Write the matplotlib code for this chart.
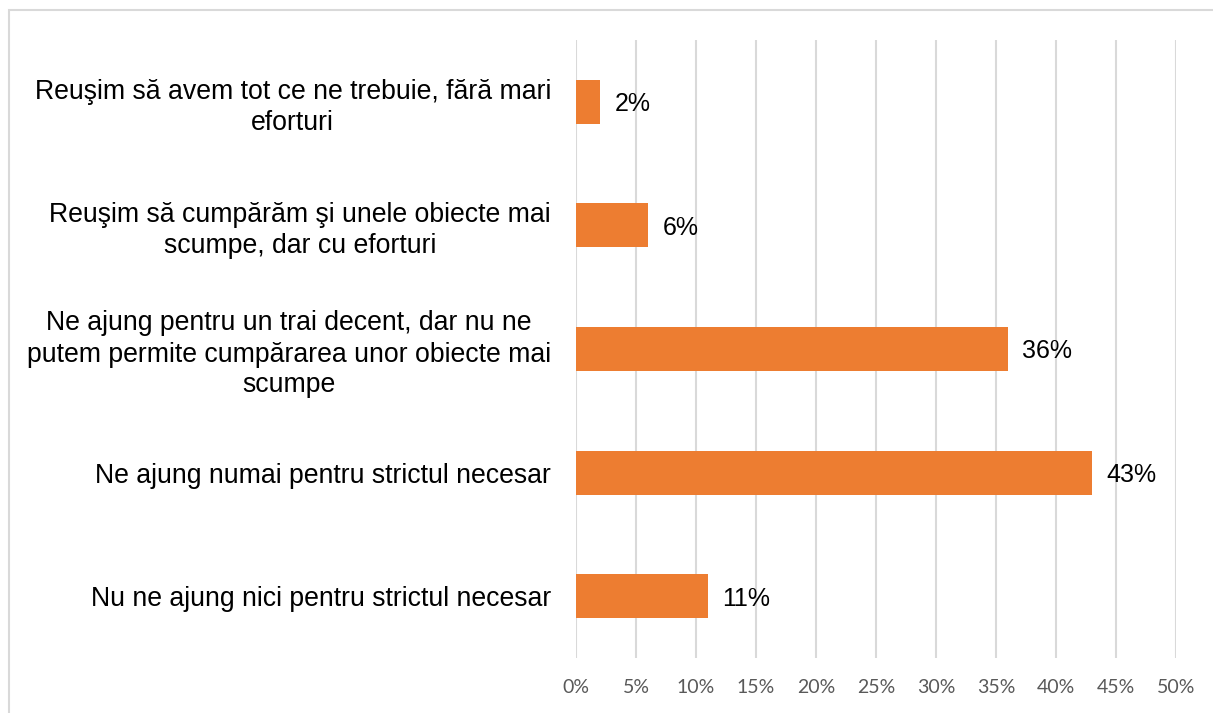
import matplotlib
matplotlib.use("Agg")
from matplotlib import pyplot as plt
from matplotlib.patches import Rectangle
import numpy as np

categories = [
    "Reuşim să avem tot ce ne trebuie, fără mari\neforturi",
    "Reuşim să cumpărăm şi unele obiecte mai\nscumpe, dar cu eforturi",
    "Ne ajung pentru un trai decent, dar nu ne\nputem permite cumpărarea unor obiecte mai\nscumpe",
    "Ne ajung numai pentru strictul necesar",
    "Nu ne ajung nici pentru strictul necesar",
]
values = [2, 6, 36, 43, 11]
ticks = [0, 5, 10, 15, 20, 25, 30, 35, 40, 45, 50]

W, H = 1213, 713
fig = plt.figure(figsize=(W / 100, H / 100), dpi=100)
fig.patch.set_facecolor("white")

# outer chart frame (open at right/bottom, as in the crop)
fig.patches.append(Rectangle((9 / W, -0.1), 1.2, 1 - 10 / H + 0.1,
                             transform=fig.transFigure, fill=False,
                             edgecolor="#D9D9D9", linewidth=1.5))

ax = fig.add_axes([576 / W, 1 - 658 / H, 600 / W, 618 / H])
y = np.arange(len(categories))
ax.barh(y, values, height=0.355, color="#ED7D31", zorder=3)
ax.set_xlim(0, 50)
ax.set_ylim(len(categories) - 0.5, -0.5)

ax.set_xticks(ticks)
ax.set_xticklabels([f"{t}%" for t in ticks], fontsize=14, color="#595959",
                   family="Lato")
ax.tick_params(axis="x", length=0, pad=15)
ax.set_yticks(y)
ax.set_yticklabels(categories, fontsize=19.2, family="Liberation Sans",
                   ha="right", multialignment="center", linespacing=1.25)
ax.tick_params(axis="y", length=0, pad=18)

ax.grid(axis="x", color="#D9D9D9", linewidth=1.5, zorder=0)
for s in ax.spines.values():
    s.set_visible(False)

for yi, v in zip(y, values):
    ax.text(v + 1.2, yi + 0.02, f"{v}%", va="center", ha="left", fontsize=18,
            family="Liberation Sans", color="black")

fig.savefig("out.png", dpi=100)
